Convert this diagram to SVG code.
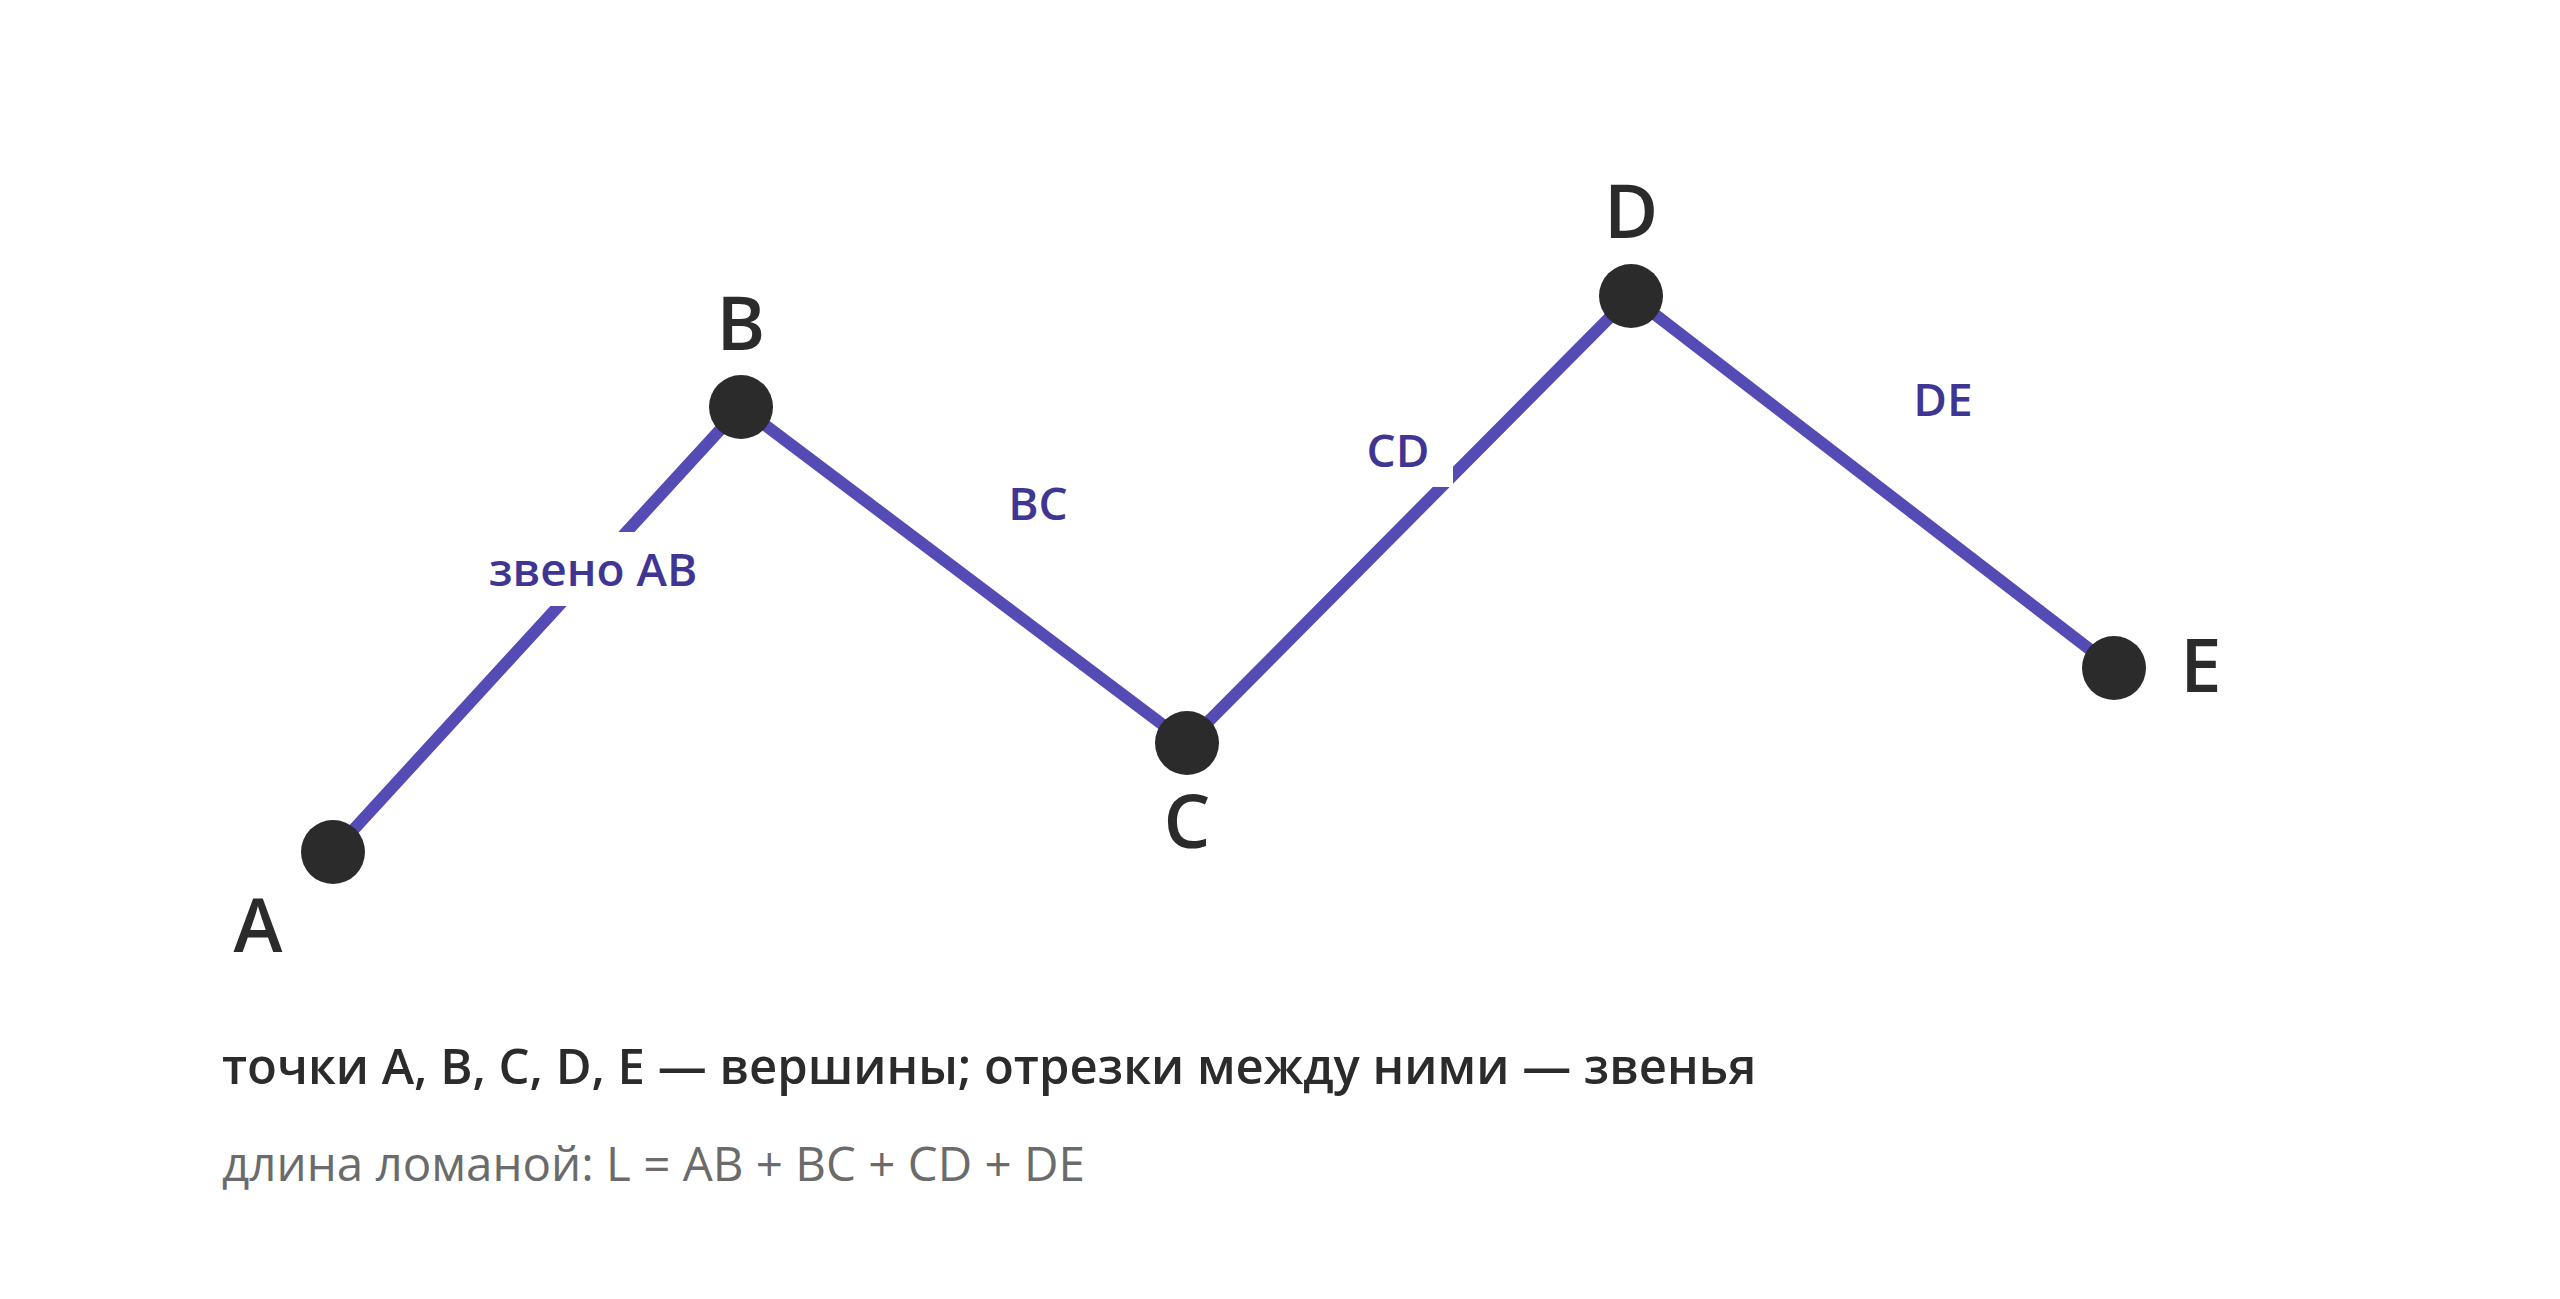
<svg xmlns="http://www.w3.org/2000/svg" width="2560" height="1299" viewBox="0 0 2560 1299">
<style>
.seg{stroke:#544bb5;stroke-width:12;fill:none;stroke-linecap:round}
.dot{fill:#2b2b2b}
.vl{font-family:"Open Sans","Liberation Sans",sans-serif;font-weight:600;font-size:74px;fill:#2b2b2b;text-anchor:middle}
.el{font-family:"Open Sans","Liberation Sans",sans-serif;font-weight:600;font-size:46px;fill:#3f3592;text-anchor:middle}
.bg{fill:#ffffff}
.cap{font-family:"Open Sans","Liberation Sans",sans-serif;font-weight:600;font-size:49px;fill:#2b2b2b}
.sub{font-family:"Open Sans","Liberation Sans",sans-serif;font-weight:400;font-size:47.5px;fill:#6b6b6b}
</style>
<rect width="2560" height="1299" fill="#ffffff"/>
<g id="connectors">
<line class="seg" x1="333" y1="852" x2="741" y2="407"/>
<line class="seg" x1="741" y1="407" x2="1187" y2="743"/>
<line class="seg" x1="1187" y1="743" x2="1631" y2="296"/>
<line class="seg" x1="1631" y1="296" x2="2114" y2="668"/>
</g>
<g id="label-AB"><rect class="bg" x="470" y="532" width="248" height="74"/><text class="el" x="593" y="586">звено AB</text></g>
<g id="label-BC"><rect class="bg" x="982" y="467" width="112" height="74"/><text class="el" x="1038" y="520">BC</text></g>
<g id="label-CD"><rect class="bg" x="1343" y="413" width="110" height="74"/><text class="el" x="1398" y="467">CD</text></g>
<g id="label-DE"><rect class="bg" x="1887" y="362" width="112" height="74"/><text class="el" x="1943" y="416">DE</text></g>
<g id="node-A"><circle class="dot" cx="333" cy="852" r="32"/><text class="vl" x="258" y="952">A</text></g>
<g id="node-B"><circle class="dot" cx="741" cy="407" r="32"/><text class="vl" x="741" y="350">B</text></g>
<g id="node-C"><circle class="dot" cx="1187" cy="743" r="32"/><text class="vl" x="1187" y="848">C</text></g>
<g id="node-D"><circle class="dot" cx="1631" cy="296" r="32"/><text class="vl" x="1631" y="238">D</text></g>
<g id="node-E"><circle class="dot" cx="2114" cy="668" r="32"/><text class="vl" x="2201" y="692">E</text></g>
<g id="caption">
<text class="cap" x="222" y="1084">точки A, B, C, D, E — вершины; отрезки между ними — звенья</text>
<text class="sub" x="222" y="1181">длина ломаной: L = AB + BC + CD + DE</text>
</g>
</svg>
